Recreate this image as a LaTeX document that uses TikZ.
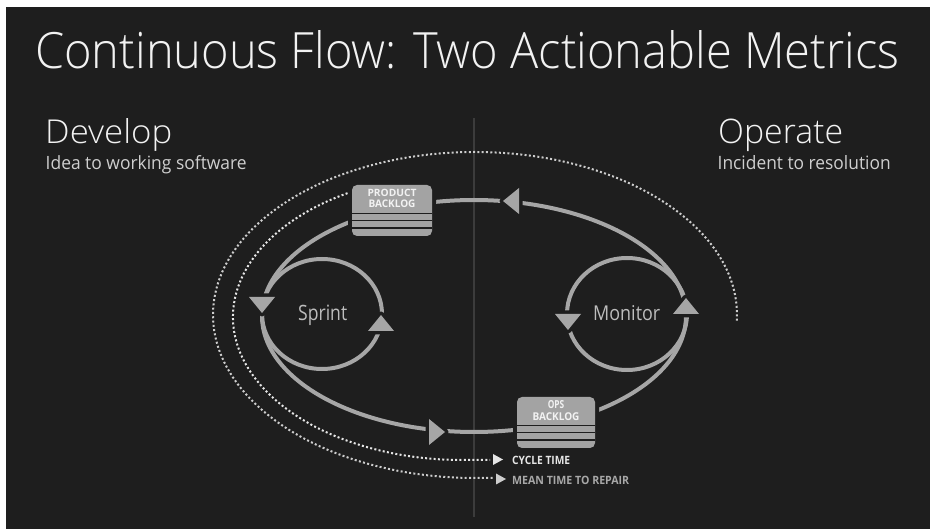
\documentclass[tikz,border=0pt]{standalone}
\usepackage{fontspec}
\usepackage{graphicx}
\setmainfont{Open Sans}
\newfontfamily\lightfont{Open Sans Light}
\definecolor{bg}{HTML}{1E1E1E}
\definecolor{linegray}{HTML}{A6A6A6}
\definecolor{boxgray}{HTML}{A3A3A3}
\definecolor{titlecol}{HTML}{F2F2F2}
\definecolor{subcol}{HTML}{CFCFCF}
\definecolor{loopcol}{HTML}{BDBDBD}
\definecolor{dotin}{HTML}{E6E6E6}
\definecolor{dotout}{HTML}{CDCDCD}
\definecolor{mttrcol}{HTML}{A8A8A8}
\definecolor{vline}{HTML}{3C3C3C}
\tikzset{
  loopline/.style={draw=linegray, line width=4},
  dotline/.style={line width=2, line cap=butt, dash pattern=on 2pt off 2.3pt},
  halo/.style={draw=bg, line width=7, line join=round},
  boxstyle/.style={fill=boxgray, rounded corners=5, inner sep=0, minimum width=80, minimum height=51},
  stripe/.style={draw=bg, line width=1.5},
  txt/.style={inner sep=0, anchor=base west},
  boxtxt/.style={inner sep=0, anchor=base, text=titlecol, font=\bfseries},
}
% rotation is in page coordinates: 0 right, 90 up, 180 left, 270 down
\newcommand{\flowtri}[2]{%
  \path[shift={#1}, rotate=#2, fill=linegray, preaction={halo}] (0,0) -- (-16,-13) -- (-16,13) -- cycle;}
\begin{document}
\begin{tikzpicture}[x=1pt,y=-1pt]
\useasboundingbox (0,0) rectangle (930,529);
\fill[white] (0,0) rectangle (930,529);
\fill[bg] (6,7) rectangle (930,529);

% divider
\draw[vline, line width=1.2] (474,118) -- (474,517);

% titles
\node[txt, text=titlecol] (title) at (35,69) {\resizebox{864pt}{38pt}{\lightfont Continuous Flow: Two Actionable Metrics}};
\node[txt, text=titlecol] (dev) at (45,144) {\resizebox{127pt}{25pt}{\lightfont Develop}};
\node[txt, text=subcol] (devsub) at (45.5,170) {\resizebox{201pt}{14pt}{Idea to working software}};
\node[txt, text=titlecol] (ope) at (718,144) {\resizebox{125pt}{24.5pt}{\lightfont Operate}};
\node[txt, text=subcol] (opesub) at (717.5,170) {\resizebox{173pt}{14pt}{Incident to resolution}};

% dotted metric arcs
\draw[dotline, dotout] (475,315) ++(362:262 and 163) arc[start angle=362, end angle=90, x radius=262, y radius=163] -- (493,478);
\draw[dotline, dotin] (462,317) ++(240:229 and 143) arc[start angle=240, end angle=90, x radius=229, y radius=143] -- (490,460);
\fill[dotin] (493,454) -- (503,459.5) -- (493,465) -- cycle;
\fill[dotout] (496,473.5) -- (506,479) -- (496,484.5) -- cycle;
\node[txt, text=dotin] (ct) at (512,464.3) {\resizebox{58pt}{8.3pt}{\bfseries CYCLE TIME}};
\node[txt, text=mttrcol] (mttr) at (512,484.3) {\resizebox{117pt}{8.3pt}{\bfseries MEAN TIME TO REPAIR}};

% main loop and the two inner loops
\draw[loopline] (474,316) ellipse [x radius=212, y radius=116];
\draw[loopline] (322,314) ellipse [x radius=60, y radius=55];
\draw[loopline] (627,314) ellipse [x radius=60, y radius=56];

% backlogs
\fill[bg, rounded corners=8] (348,181) rectangle (436,240);
\node[boxstyle] (pb) at (392,210.5) {};
\draw[stripe] (352,213.5) -- (432,213.5);
\draw[stripe] (352,220.5) -- (432,220.5);
\draw[stripe] (352,228) -- (432,228);
\node[boxtxt] (pb1) at (392,196.2) {\resizebox{49pt}{7.3pt}{PRODUCT}};
\node[boxtxt] (pb2) at (392,207.8) {\resizebox{47pt}{7.6pt}{BACKLOG}};

\fill[bg, rounded corners=8] (513,393) rectangle (599,452);
\node[boxstyle, minimum width=78] (ob) at (556,422.5) {};
\draw[stripe] (517,425.5) -- (595,425.5);
\draw[stripe] (517,432.5) -- (595,432.5);
\draw[stripe] (517,440) -- (595,440);
\node[boxtxt] (ob1) at (556,409) {\resizebox{16.5pt}{8pt}{OPS}};
\node[boxtxt] (ob2) at (556,420.3) {\resizebox{47pt}{7.8pt}{BACKLOG}};

% arrowheads
\flowtri{(503,201)}{180}
\flowtri{(262,313)}{270}
\flowtri{(445,432)}{0}
\flowtri{(686,298)}{90}
\flowtri{(381,315)}{90}
\flowtri{(568,330)}{270}

% loop labels
\node[txt, text=loopcol] (sprint) at (298,321) {\resizebox{49pt}{15.5pt}{Sprint}};
\node[txt, text=loopcol] (monitor) at (593,321) {\resizebox{67pt}{15pt}{Monitor}};
\end{tikzpicture}
\end{document}
